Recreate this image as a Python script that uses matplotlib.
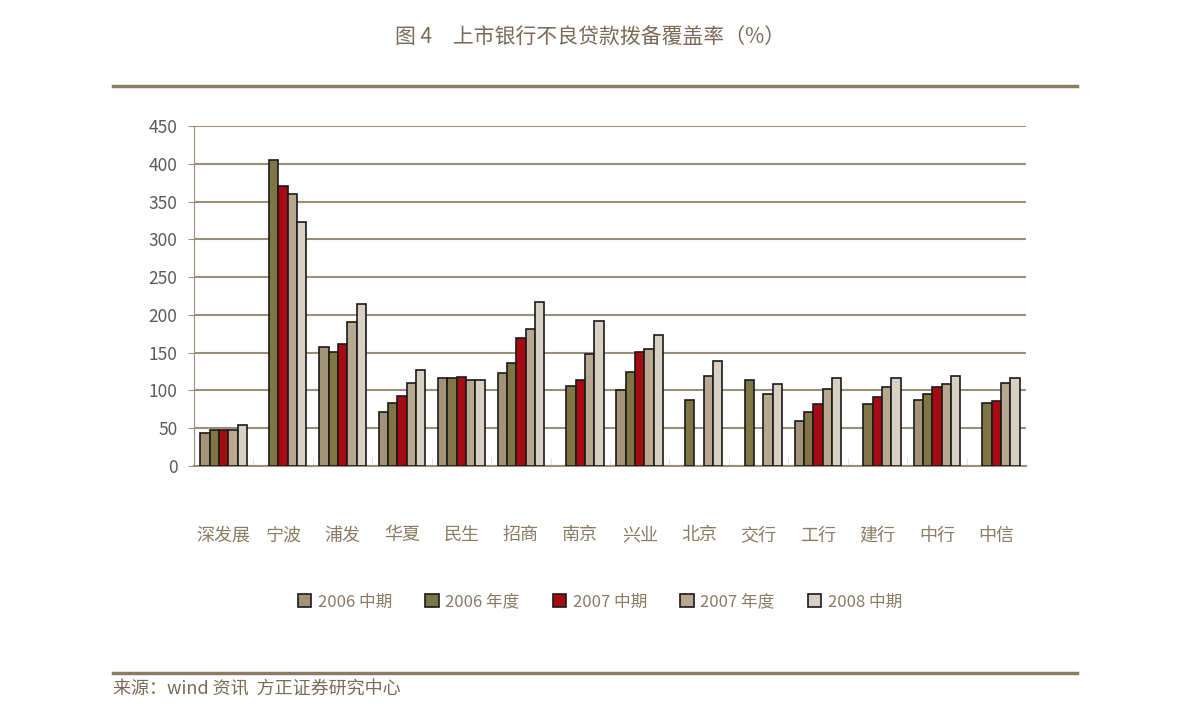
import numpy as np
import matplotlib
matplotlib.use("Agg")
import matplotlib.pyplot as plt
from matplotlib.patches import Patch

plt.rcParams['font.family'] = ['Noto Sans CJK SC', 'DejaVu Sans']

banks = ['深发展', '宁波', '浦发', '华夏', '民生', '招商', '南京', '兴业',
         '北京', '交行', '工行', '建行', '中行', '中信']
series = ['2006 中期', '2006 年度', '2007 中期', '2007 年度', '2008 中期']
nan = np.nan
h2006 = [44, nan, 157, 72, 116, 123, nan, 101, nan, nan, 60, nan, 87, nan]
y2006 = [48, 405, 151, 84, 116, 136, 106, 125, 87, 114, 71, 82, 95, 84]
h2007 = [48, 370, 161, 93, 118, 170, 114, 151, nan, nan, 82, 91, 104, 86]
y2007 = [48, 360, 191, 110, 114, 181, 148, 155, 119, 95, 102, 104, 108, 110]
h2008 = [54, 323, 215, 127, 114, 217, 192, 174, 139, 108, 116, 117, 119, 116]
values = [h2006, y2006, h2007, y2007, h2008]
colors = ['#A39479', '#7F7545', '#A80A14', '#B8A890', '#D8D0C2']

txt = '#8B7B62'

fig = plt.figure(figsize=(11.91, 7.21), dpi=100)
ax = fig.add_axes([194 / 1191, 1 - 466 / 721, 832 / 1191, 340 / 721])

x = np.arange(len(banks))
w = 0.157
for i, (vals, c) in enumerate(zip(values, colors)):
    ax.bar(x + (i - 2) * w, vals, w, color=c, edgecolor='#1a1a1a',
           linewidth=1.2, zorder=3, label=series[i])

ax.set_xlim(-0.5, len(banks) - 0.5)
ax.set_ylim(0, 450)
ax.set_yticks(range(0, 451, 50))
ax.yaxis.grid(True, color='#9C8F7A', linewidth=1.5, zorder=0)
ax.set_axisbelow(True)
for s in ['top', 'right']:
    ax.spines[s].set_visible(False)
ax.spines['left'].set_color('#9C8F7A')
ax.spines['bottom'].set_color('#9C8F7A')
ax.spines['bottom'].set_linewidth(1.5)
ax.tick_params(axis='y', labelsize=12.5, colors='#5a5a5a', length=4,
               color='#9C8F7A', pad=8)
ax.set_xticks(x)
ax.set_xticklabels(banks, fontsize=13, color=txt)
ax.tick_params(axis='x', length=0, pad=50)
ax.set_xticks(np.arange(0.5, len(banks) - 1, 1), minor=True)
ax.tick_params(axis='x', which='minor', direction='in', length=6,
               color='#dddddd')
for lbl in ax.get_xticklabels():
    lbl.set_va('center')

handles = [Patch(facecolor=c, edgecolor='#1a1a1a', linewidth=1.2) for c in colors]
fig.legend(handles, series, loc='center', bbox_to_anchor=(600 / 1191, 1 - 602 / 721),
           ncol=5, frameon=False, fontsize=12, labelcolor=txt,
           handlelength=0.8, handleheight=0.8, handletextpad=0.4,
           columnspacing=2.0)

fig.text(590 / 1191, 1 - 37 / 721, '图 4　上市银行不良贷款拨备覆盖率（%）',
         ha='center', va='center', fontsize=15, color='#7A6A55')
fig.add_artist(plt.Line2D([113 / 1191, 1077 / 1191], [1 - 86 / 721] * 2,
                          color='#8B7B62', linewidth=2.5))
fig.add_artist(plt.Line2D([113 / 1191, 1077 / 1191], [1 - 673 / 721] * 2,
                          color='#8B7B62', linewidth=2.5))
fig.text(113 / 1191, 1 - 690 / 721, '来源：wind 资讯  方正证券研究中心',
         ha='left', va='center', fontsize=13, color='#7A6A55', style='italic')

fig.savefig('out.png', dpi=100)
